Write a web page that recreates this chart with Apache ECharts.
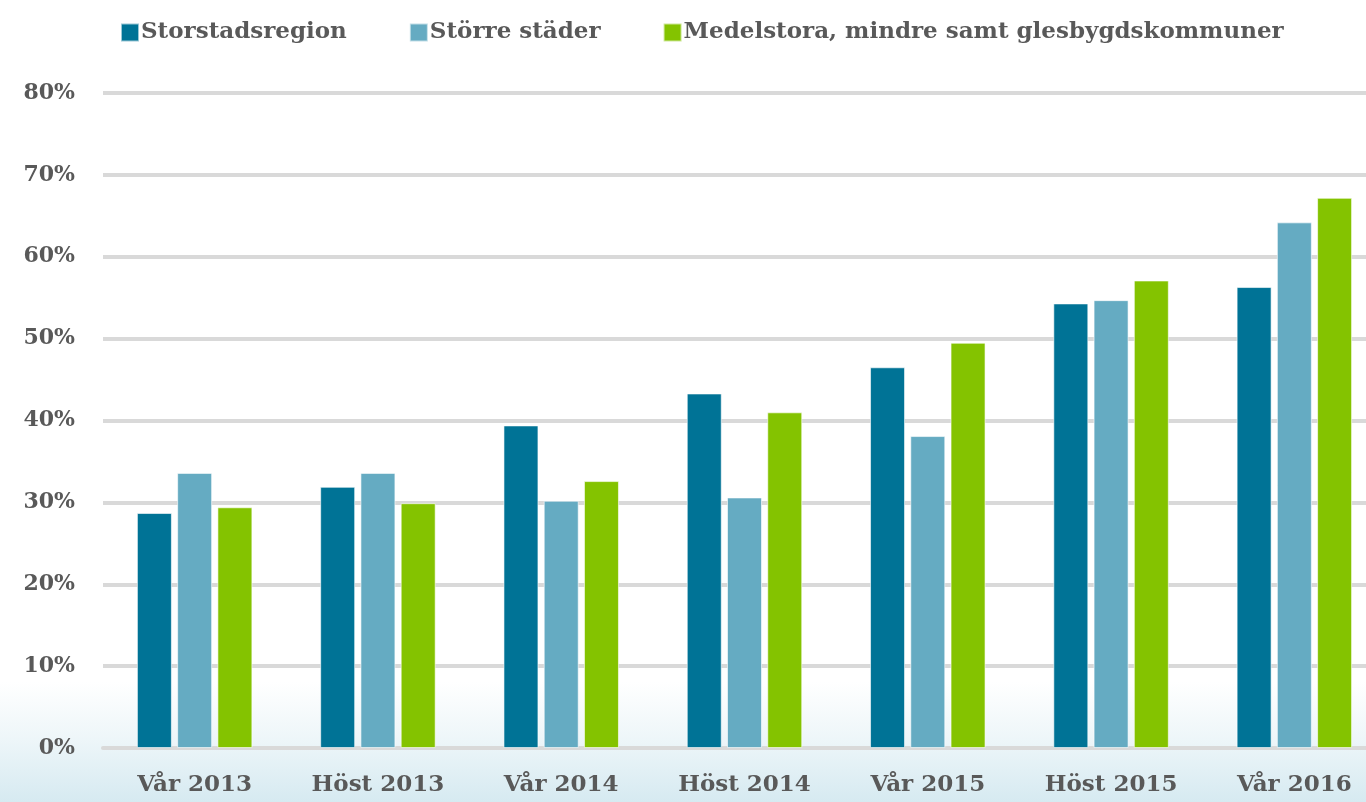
<!DOCTYPE html>
<html>
<head>
<meta charset="utf-8">
<script src="https://cdn.jsdelivr.net/npm/echarts@6/dist/echarts.min.js"></script>
<style>
  html, body { margin: 0; padding: 0; }
  body {
    width: 1366px; height: 802px; overflow: hidden;
    background: linear-gradient(to bottom, #ffffff 0%, #ffffff 85%, #eef6f9 92%, #d6eaf1 100%);
  }
  #chart { width: 1366px; height: 802px; }
</style>
</head>
<body>
<div id="chart"></div>
<script>
  var categories = ['Vår 2013', 'Höst 2013', 'Vår 2014', 'Höst 2014', 'Vår 2015', 'Höst 2015', 'Vår 2016'];
  var storstad = [28.7, 31.9, 39.4, 43.3, 46.5, 54.3, 56.3];
  var storreStader = [33.6, 33.6, 30.2, 30.6, 38.1, 54.7, 64.2];
  var medelstora = [29.4, 29.9, 32.6, 41.0, 49.5, 57.1, 67.2];
  var seriesNames = ['Storstadsregion', 'Större städer', 'Medelstora, mindre samt glesbygdskommuner'];
  var colors = ['#007396', '#65abc2', '#84c300'];

  var chart = echarts.init(document.getElementById('chart'));
  var font = '"DejaVu Serif", serif';

  var option = {
    animation: false,
    color: colors,
    legend: {
      top: 16,
      left: 115,
      itemWidth: 18,
      itemHeight: 18,
      itemGap: 62,
      icon: 'rect',
      textStyle: { fontFamily: font, fontWeight: 'bold', fontSize: 23, color: '#595959', padding: [0, 0, 0, -3] },
      data: seriesNames
    },
    grid: { left: 103, top: 93, width: 1283, height: 655, outerBoundsMode: 'none', containLabel: false },
    xAxis: {
      type: 'category',
      data: categories,
      axisLine: { lineStyle: { color: '#d9d9d9', width: 4 } },
      axisTick: { show: false },
      axisLabel: { fontFamily: font, fontWeight: 'bold', fontSize: 23, color: '#595959', margin: 26 }
    },
    yAxis: {
      type: 'value',
      min: 0,
      max: 80,
      interval: 10,
      axisLine: { show: false },
      axisTick: { show: false },
      splitLine: { lineStyle: { color: '#d9d9d9', width: 4 } },
      axisLabel: {
        fontFamily: font, fontWeight: 'bold', fontSize: 22, color: '#595959', margin: 28,
        formatter: '{value}%'
      }
    },
    series: [
      { name: seriesNames[0], type: 'bar', data: storstad, barWidth: 35, barGap: '15%',
        itemStyle: { borderColor: 'rgba(255,255,255,0.6)', borderWidth: 1 } },
      { name: seriesNames[1], type: 'bar', data: storreStader, barWidth: 35, barGap: '15%',
        itemStyle: { borderColor: 'rgba(255,255,255,0.6)', borderWidth: 1 } },
      { name: seriesNames[2], type: 'bar', data: medelstora, barWidth: 35, barGap: '15%',
        itemStyle: { borderColor: 'rgba(255,255,255,0.6)', borderWidth: 1 } }
    ]
  };
  chart.setOption(option);
</script>
</body>
</html>
